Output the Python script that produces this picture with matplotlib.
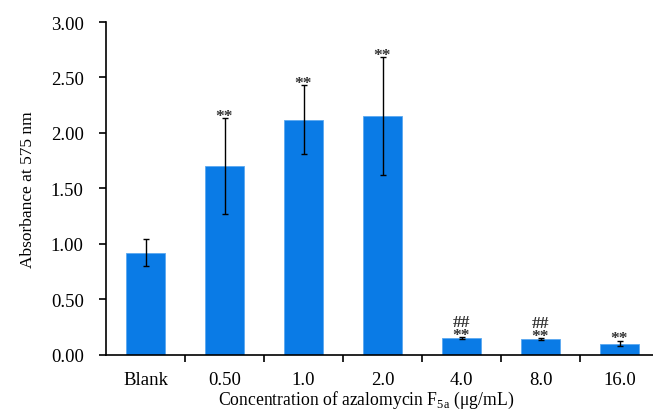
import matplotlib.pyplot as plt
import numpy as np

plt.rcParams['font.family'] = ['Liberation Serif', 'DejaVu Serif']

categories = ['Blank', '0.50', '1.0', '2.0', '4.0', '8.0', '16.0']
absorbance = [0.92, 1.70, 2.12, 2.15, 0.15, 0.14, 0.10]
sd = [0.12, 0.43, 0.31, 0.53, 0.01, 0.01, 0.025]
marks = ['', '**', '**', '**', '##\n**', '##\n**', '**']

fig = plt.figure(figsize=(6.53, 4.14), dpi=100)
# axes right edge runs past the figure, as in the cropped original
ax = fig.add_axes([106 / 653, (414 - 355.7) / 414, 547 / 653, (355.7 - 23) / 414])

x = np.arange(len(categories))
ax.bar(x, absorbance, width=0.5, color='#0A7BE6', edgecolor='#5BA8F0', linewidth=0.6)
ax.errorbar(x, absorbance, yerr=sd, fmt='none', ecolor='black', elinewidth=1.0,
            capsize=2.5, capthick=1.0)

for xi, v, e, m in zip(x, absorbance, sd, marks):
    if m:
        ax.text(xi, v + e - 0.05, m, ha='center', va='bottom', fontsize=12.5,
                fontweight='bold', linespacing=0.7, color='#333333')

ax.set_xlim(-0.5, -0.5 + 547 / 79)
ax.set_ylim(0, 3.0)
ax.set_yticks(np.arange(0, 3.01, 0.5))
ax.set_yticklabels(['%.2f' % t for t in np.arange(0, 3.01, 0.5)], fontsize=13.5)
ax.set_xticks(x)
ax.set_xticklabels(categories, fontsize=13.5)
ax.tick_params(axis='x', length=0, pad=12)
ax.set_xticks(np.arange(0.5, len(categories) - 0.5, 1.0), minor=True)
ax.tick_params(axis='x', which='minor', length=5, width=1.2, direction='out')
ax.tick_params(axis='y', length=5, width=1.2, direction='out', pad=11)

for s in ['top', 'right']:
    ax.spines[s].set_visible(False)
for s in ['left', 'bottom']:
    ax.spines[s].set_linewidth(1.2)

ax.set_ylabel('Absorbance at 575 nm', fontsize=12.5, labelpad=11)
fig.text(366 / 653, 1 - 400 / 414, r'Concentration of azalomycin F$_{\mathregular{5a}}$ (μg/mL)',
         ha='center', va='center', fontsize=12.7)

fig.savefig('out.png', dpi=100)
